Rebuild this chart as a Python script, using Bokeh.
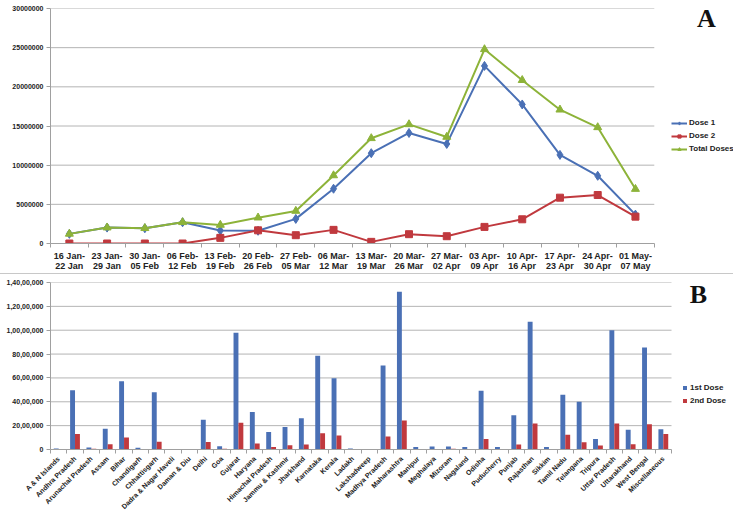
from bokeh.plotting import figure
from bokeh.models import FixedTicker, Legend, LegendItem, Label, Spacer, ColumnDataSource
from bokeh.layouts import column
from bokeh.transform import dodge
from bokeh.embed import file_html
from bokeh.resources import INLINE

# ---------------- Panel A data ----------------
weeks = ["16 Jan-\n22 Jan", "23 Jan-\n29 Jan", "30 Jan-\n05 Feb", "06 Feb-\n12 Feb",
         "13 Feb-\n19 Feb", "20 Feb-\n26 Feb", "27 Feb-\n05 Mar", "06 Mar-\n12 Mar",
         "13 Mar-\n19 Mar", "20 Mar-\n26 Mar", "27 Mar-\n02 Apr", "03 Apr-\n09 Apr",
         "10 Apr-\n16 Apr", "17 Apr-\n23 Apr", "24 Apr-\n30 Apr", "01 May-\n07 May"]
dose1 = [1230000, 2030000, 1950000, 2710000, 1650000, 1620000, 3140000, 6990000,
         11530000, 14110000, 12710000, 22670000, 17750000, 11310000, 8640000, 3690000]
dose2 = [0, 0, 0, 0, 720000, 1680000, 1060000, 1740000,
         210000, 1190000, 930000, 2120000, 3090000, 5850000, 6190000, 3430000]
total_doses = [1230000, 2030000, 1950000, 2710000, 2370000, 3300000, 4150000, 8690000,
               13430000, 15210000, 13600000, 24790000, 20850000, 17080000, 14830000, 6950000]
a_ticks = [0, 5000000, 10000000, 15000000, 20000000, 25000000, 30000000]

# ---------------- Panel B data ----------------
states = ["A & N Islands", "Andhra Pradesh", "Arunachal Pradesh", "Assam", "Bihar",
          "Chandigarh", "Chhattisgarh", "Dadra & Nagar Haveli", "Daman & Diu", "Delhi",
          "Goa", "Gujarat", "Haryana", "Himachal Pradesh", "Jammu & Kashmir", "Jharkhand",
          "Karnataka", "Kerala", "Ladakh", "Lakshadweep", "Madhya Pradesh", "Maharashtra",
          "Manipur", "Meghalaya", "Mizoram", "Nagaland", "Odisha", "Puducherry", "Punjab",
          "Rajasthan", "Sikkim", "Tamil Nadu", "Telangana", "Tripura", "Uttar Pradesh",
          "Uttarakhand", "West Bengal", "Miscellaneous"]
first_dose = [80000, 4970000, 170000, 1740000, 5720000, 150000, 4800000, 30000, 30000,
              2500000, 280000, 9790000, 3140000, 1460000, 1880000, 2610000, 7860000,
              5980000, 80000, 20000, 7040000, 13220000, 200000, 250000, 250000, 200000,
              4920000, 200000, 2880000, 10700000, 200000, 4580000, 4000000, 890000,
              10000000, 1650000, 8550000, 1700000]
second_dose = [20000, 1290000, 60000, 450000, 1010000, 50000, 650000, 5000, 5000,
               620000, 60000, 2240000, 500000, 220000, 360000, 420000, 1370000,
               1180000, 30000, 5000, 1090000, 2430000, 50000, 50000, 60000, 40000,
               890000, 40000, 420000, 2180000, 40000, 1230000, 610000, 340000,
               2180000, 450000, 2120000, 1290000]
b_ticks = [0, 2000000, 4000000, 6000000, 8000000, 10000000, 12000000, 14000000]
b_tick_labels = ["0", "20,00,000", "40,00,000", "60,00,000", "80,00,000",
                 "1,00,00,000", "1,20,00,000", "1,40,00,000"]

BLUE = "#4A70B5"
RED = "#C0393E"
GREEN = "#8DB339"
GRID = "#b4b4b4"
AXIS = "#a0a0a0"
FONT = "Liberation Sans"
TXT = "#222222"

# layout geometry (pixels)
W = 733
A_H, B_H = 273, 242
A_LEFT, A_PLOT_W = 43, 610          # frame left border and width of the category area
B_LEFT, B_PLOT_W = 50, 621

# ---------------- Panel A ----------------
n_a = len(weeks)
a_pitch = A_PLOT_W / n_a
a_end = -0.5 + (W - A_LEFT) / a_pitch
pA = figure(width=W, height=A_H, x_range=(-0.5, a_end), y_range=(0, 30000000),
            output_backend="svg", toolbar_location=None,
            min_border_left=A_LEFT, min_border_right=0, min_border_top=8, min_border_bottom=29)
pA.outline_line_color = None
pA.xgrid.grid_line_color = None
pA.ygrid.grid_line_color = None

pA.segment(x0=-0.5, x1=n_a - 0.5, y0=a_ticks[1:], y1=a_ticks[1:],
           line_color=GRID, line_width=1, level="underlay")

xa = list(range(n_a))
srcA = ColumnDataSource(dict(x=xa, d1=dose1, d2=dose2, tot=total_doses))
l1 = pA.line("x", "d1", source=srcA, line_color=BLUE, line_width=2)
m1 = pA.scatter("x", "d1", source=srcA, marker="diamond", size=9, color=BLUE)
l2 = pA.line("x", "d2", source=srcA, line_color=RED, line_width=2)
m2 = pA.scatter("x", "d2", source=srcA, marker="square", size=7, color=RED)
l3 = pA.line("x", "tot", source=srcA, line_color=GREEN, line_width=2)
m3 = pA.scatter("x", "tot", source=srcA, marker="triangle", size=8, color=GREEN)

xaxA = pA.xaxis[0]
xaxA.bounds = (-0.5, n_a - 0.5)
xaxA.ticker = FixedTicker(ticks=xa, minor_ticks=[i - 0.5 for i in range(n_a + 1)])
xaxA.major_label_overrides = {i: w for i, w in enumerate(weeks)}
xaxA.major_tick_line_color = None
xaxA.minor_tick_line_color = AXIS
xaxA.minor_tick_out = 4
xaxA.minor_tick_in = 0
xaxA.axis_line_color = AXIS
xaxA.major_label_text_font = FONT
xaxA.major_label_text_font_style = "bold"
xaxA.major_label_text_font_size = "9px"
xaxA.major_label_text_line_height = 1.0
xaxA.major_label_text_color = TXT
xaxA.major_label_standoff = 1

yaxA = pA.yaxis[0]
yaxA.ticker = FixedTicker(ticks=a_ticks)
yaxA.formatter.use_scientific = False
yaxA.minor_tick_line_color = None
yaxA.major_tick_out = 4
yaxA.major_tick_in = 0
yaxA.major_tick_line_color = AXIS
yaxA.axis_line_color = AXIS
yaxA.major_label_text_font = FONT
yaxA.major_label_text_font_style = "bold"
yaxA.major_label_text_font_size = "7px"
yaxA.major_label_text_color = TXT
yaxA.major_label_standoff = 3

legA = Legend(items=[LegendItem(label="Dose 1", renderers=[l1, m1]),
                     LegendItem(label="Dose 2", renderers=[l2, m2]),
                     LegendItem(label="Total Doses", renderers=[l3, m3])],
              location=(621, 90), padding=0, margin=0, spacing=4,
              glyph_width=16, glyph_height=8, label_height=8, label_standoff=2,
              label_text_font=FONT, label_text_font_style="bold",
              label_text_font_size="8px", label_text_color=TXT,
              border_line_color=None, background_fill_alpha=0)
pA.add_layout(legA)
pA.add_layout(Label(x=656, y=225, x_units="screen", y_units="screen", text="A",
                    text_font="Liberation Serif", text_font_style="bold",
                    text_font_size="26px", text_align="center", text_baseline="middle",
                    text_color="#111111"))

# ---------------- separator ----------------
sep = Spacer(width=W, height=1, styles={"background-color": "#c8c8c8"})

# ---------------- Panel B ----------------
n_b = len(states)
b_pitch = B_PLOT_W / n_b
b_end = -0.5 + (W - B_LEFT) / b_pitch
pB = figure(width=W, height=B_H, x_range=(-0.5, b_end), y_range=(0, 14000000),
            output_backend="svg", toolbar_location=None,
            min_border_left=B_LEFT, min_border_right=0, min_border_top=8, min_border_bottom=67)
pB.outline_line_color = None
pB.xgrid.grid_line_color = None
pB.ygrid.grid_line_color = None

pB.segment(x0=-0.5, x1=n_b - 0.5, y0=b_ticks[1:], y1=b_ticks[1:],
           line_color=GRID, line_width=1, level="underlay")

xb = list(range(n_b))
srcB = ColumnDataSource(dict(x=xb, f=first_dose, s=second_dose))
b1 = pB.vbar(x=dodge("x", -0.15, range=pB.x_range), top="f", width=0.3, source=srcB,
             fill_color=BLUE, line_color=None)
b2 = pB.vbar(x=dodge("x", 0.15, range=pB.x_range), top="s", width=0.3, source=srcB,
             fill_color=RED, line_color=None)

xaxB = pB.xaxis[0]
xaxB.bounds = (-0.5, n_b - 0.5)
xaxB.ticker = FixedTicker(ticks=xb, minor_ticks=[i - 0.5 for i in range(n_b + 1)])
xaxB.major_label_overrides = {i: s for i, s in enumerate(states)}
xaxB.major_label_orientation = 0.785398
xaxB.major_tick_line_color = None
xaxB.minor_tick_line_color = AXIS
xaxB.minor_tick_out = 4
xaxB.minor_tick_in = 0
xaxB.axis_line_color = AXIS
xaxB.major_label_text_font = FONT
xaxB.major_label_text_font_style = "bold"
xaxB.major_label_text_font_size = "7px"
xaxB.major_label_text_color = TXT
xaxB.major_label_standoff = 2

yaxB = pB.yaxis[0]
yaxB.ticker = FixedTicker(ticks=b_ticks)
yaxB.major_label_overrides = {t: l for t, l in zip(b_ticks, b_tick_labels)}
yaxB.minor_tick_line_color = None
yaxB.major_tick_out = 4
yaxB.major_tick_in = 0
yaxB.major_tick_line_color = AXIS
yaxB.axis_line_color = AXIS
yaxB.major_label_text_font = FONT
yaxB.major_label_text_font_style = "bold"
yaxB.major_label_text_font_size = "7px"
yaxB.major_label_text_color = TXT
yaxB.major_label_standoff = 3

legB = Legend(items=[LegendItem(label="1st Dose", renderers=[b1]),
                     LegendItem(label="2nd Dose", renderers=[b2])],
              location=(632, 44), padding=0, margin=0, spacing=4,
              glyph_width=5, glyph_height=5, label_height=8, label_standoff=3,
              label_text_font=FONT, label_text_font_style="bold",
              label_text_font_size="8px", label_text_color=TXT,
              border_line_color=None, background_fill_alpha=0)
pB.add_layout(legB)
pB.add_layout(Label(x=648, y=155, x_units="screen", y_units="screen", text="B",
                    text_font="Liberation Serif", text_font_style="bold",
                    text_font_size="26px", text_align="center", text_baseline="middle",
                    text_color="#111111"))

layout = column(pA, sep, pB, spacing=0)
open("out.html", "w").write(file_html(layout, INLINE))
